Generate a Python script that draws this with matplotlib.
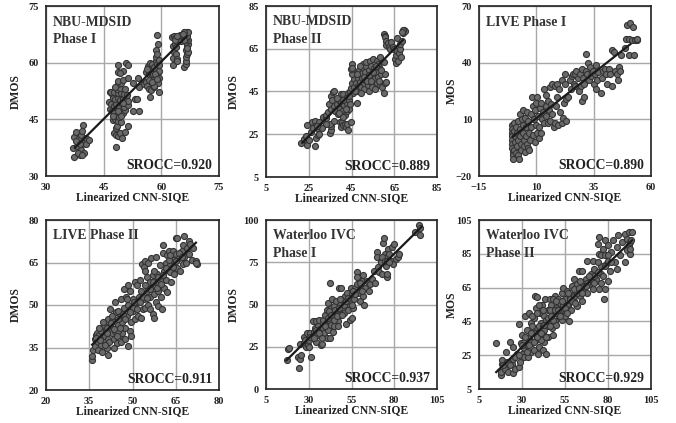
import numpy as np
import matplotlib
matplotlib.use("Agg")
import matplotlib.pyplot as plt

# puntos (x, y) por panel
nbu1_pts = [(37.2,35),(37.1,37.5),(37.3,40.3),(37.9,41.8),(38,38),(38.3,39),(38.5,36.5),(38.6,40),(38.9,35.5),(39,37),
    (39.2,41),(39.3,42),(39.7,43.5),(39.4,38.5),(39.8,36),(40,39),(40.3,40),(40.5,38.5),(41.1,39.5),(38.2,36.2),(39.4,35.6),(37.8,39.2),(38.8,38.4),
    (48.3,37.6),(47.6,41.5),(48.2,41),(48.6,40.5),(49.3,41.3),(49.8,40),(50.6,41.7),(51.2,43.2),(48.1,42.8),(48.4,43.3),(47.4,44.8),(48,45),(48.7,44.6),(49.5,44.3),
    (46.7,47.8),(47.2,47.2),(47.8,46.8),(48.4,46),(49,45.7),(49.4,47.2),(50,46.6),(50.5,47.4),(46.5,49.6),(47,49),(47.6,48.5),(48.3,49),(49,48.6),(49.7,49),(50.3,48.4),(51.2,48.8),
    (46.6,52.2),(47.1,51.7),(47.4,50.8),(48,50.5),(48.7,50.8),(49.3,50.2),(50,50.4),(50.8,50.6),(51.3,50),(46.9,52.4),(47.7,52.2),(48.6,52),(49.4,52),(50.2,51.8),(51,51.6),
    (48.4,53.2),(49.2,53.4),(48.7,54.3),(49.6,54.8),(48.7,55.3),(50,55.4),(51.2,56),(48.6,59.4),(50.8,60),(51.2,59.4),(48.8,57.5),(50.1,57.8),(49.2,57.3),(53.2,50.5),(53.8,50.5),(52.7,47.3),(54.1,47.3),(52.7,54.7),(54,56),(54.3,53.6),
    (55.5,54.5),(56,55),(56.4,54),(56.9,53),(57,51),(57.4,52.8),(58,53.5),(59.3,52.4),(56.1,57.6),(56.7,57),(57,58),(57.5,56.5),(58,56),(58.5,55),(59.2,54.6),(59.5,56),(56.6,59.3),(57,60),(57.5,59.8),(58,59),(58.6,58.2),(59.1,57.5),(59.5,58),(57.8,57),(58.2,54),(56.4,58.3),
    (58.5,60.5),(59,59.8),(59.4,59.5),(58.6,61.5),(58.7,63.5),(59,62.5),(59.2,65),(59,67.4),(59.3,60.8),
    (63,59.4),(63,61.4),(63.2,63),(63.7,62.5),(64,61),(64.2,60.5),(63,64.5),(63.5,65),(63.8,64.2),(62.9,67),(63.2,67.2),(63.6,66.6),(64.2,66.4),(64.8,67.5),(65.5,67),(65,65.8),
    (65.8,59),(66.3,59.8),(66.5,60.5),(66.4,61.5),(66.8,62.5),(66.5,63.5),(67,63),(66.6,64.5),(66.9,65),(66.5,65.6),(67,66),(66.4,66.5),(66.8,67.2),(66.2,67.8),(66.6,68.2),(67,68.2),(66,68.1),(65.7,67.7),
    (56.8,55.5),(57.6,55),(58.4,57.2),(59,55.8),(47.5,46),(48.8,47.3),(49.6,45.8),(47.9,53.5),(50.5,53),(49.9,49.5),(63.5,66),(64,67.2),(66,66),(66.8,64)]

nbu2_pts = [(21.5,20.8),(23,22.7),(23.5,24),(24,19.8),(25,22.5),(24.3,29.3),(27.7,19.6),(28.3,23.2),(29.5,24.5),(30,25.2),(26.5,30.8),(28,31),(28.8,28),(27.8,28.7),(29.8,30.6),(31.5,33),(33,32.8),(34.8,25.5),(35.3,27),(35.2,28.8),(35,30),(37,31),(33,34),
    (34,35.5),(34.5,39),(35.5,37),(35.5,43),(36,41),(36.2,44.8),(36.8,45),(37,38),(37.5,36),(38,39),(38.5,34.5),(39,41),(39.5,37),(40,43.8),(40.3,40),(40.5,36),(41,44),(41.5,38.5),(42,34),(42.2,42),(42.7,39.5),(43,35.8),(43.2,44.5),(43.8,41),(44,37),(44.5,45),(44.5,39),
    (39.7,30.5),(40.5,30.9),(40.3,28.2),(41.2,29.5),(42,30),(42.5,28.5),(43,30),(43.4,26.8),(44.7,30.6),
    (44.8,46.8),(45,49),(45.5,44.3),(46,51),(46.3,47),(46.5,53.5),(47,49),(45,53),(44.8,55.5),(45,57.8),(45.3,56),(47.4,39.5),(47.5,45),(48,51.5),(48,47.5),(48.3,53),(48.5,55),(49,49.5),(49,45.5),(49.5,47),
    (49.8,51.5),(50,53.5),(50.3,56),(50.5,58),(51,49),(51,46),(51.3,50.5),(51.5,54),(52,57),(52,59),(52.5,52),(52.8,48),(53,55),(53,45),(53.5,50),(53.8,59.5),(54,57),(54.5,53),(54.8,47),(55,60),(55.5,51),(55.5,56),(56,46),(56.3,54),(56.8,59.5),(57,49),(57.5,52),(58,56.5),(58.5,61),(58.5,48),(59,53),(59.5,47),(60,44.5),(60.5,53),(60.8,49),(61.3,49.5),(60,59),(57.5,58),(49.5,44.5),
    (60,72),(60.5,71),(60.8,70.3),(61,68.5),(61.3,66.8),(62,67.5),(62.5,66),(63,65),(63.5,68),(64.5,66),(65,65),(65.5,60),(65.8,58.5),(66,62),(66.3,70),(66.5,64),(66.8,59.5),(67.2,63),(67.5,65),(67.8,67),(68,61.3),(68.6,68.5),(69.2,72.5),(69.5,74),(69.8,73.5),(69.3,73.8),(68.8,72.8),
    (38,42),(39,35),(40.8,33),(41,41),(42.6,37),(43.6,43),(46.5,45),(47.7,53),(49,57),(50.8,52),(52.2,50),(53.3,52.5),(54.2,50),(55,54),(56.5,57),(57.8,50),(58.8,55),(33,30),(31,28),(26,26),(27,28),(29,29)]

live1_pts = [(-0.5,7),(-0.5,5),(-0.6,3),(-0.5,1),(-0.6,-1),(-0.5,-3),(-0.4,-5),(-0.3,-7),(-0.3,-9),(-0.2,-11),(0.2,-6),(0.3,4),(0.4,8),(0.6,-2),(0.8,1),(1,6),(1.2,-8),(1.5,-4),(1.7,3),(2,-1),(2,9),(2.2,-9),(2.6,-11),(2.8,1),(3,5),(3,13),(3.2,-6),(3.5,-3),(3.7,10),(4,15),(4,3),(4.2,7),(4.5,-1),(4.8,-4),(5,-7),(5.2,11),(5.5,1),(5.7,6),(6,-3),(6,14),(6.2,-5),(6.5,9),(6.8,3),(7,-6),(7.4,-1),(7.5,13),(7.8,6),(8,22),(8.5,2),(8.6,17),(9,10),(9.3,15),(9.5,-2),(9.8,7),(10,19),(10.2,3),(10.5,22),(10.8,12),(11,0),(11.3,6),(11.6,16),(12,3),(12,19),(12.5,10),
    (13,14),(13.2,26),(13.5,8),(14,17),(14.2,12),(14.4,23),(15,8),(15.2,20),(15.5,15),(16,9),(16,27),(16.5,18),(17,13),(17,29),(17.5,6),(18,28),(18.2,8),(18.5,17),(19,29),(19,22),(19.5,7),(20,26),(20.5,14),(21,8),(21,31),(21.5,11),(22,19),(22.5,34),(22.7,29),(23,9),(23,21),(24,22),(24.5,31),(25,26),(25.5,33),(26,34),(26.5,29),(27,34),(27,28),(27.5,36),(28,32),(28.5,25),(29,34),(29.3,28),(29.7,20),(30,37),(30.2,32),(30.8,22),(31,29),(31.5,36),(31.8,45),(32,34),(32.5,40),(33,31),(33.5,38),(34,33),(34.5,36),(35,29),(35.5,34),(36,39),(36,26),(36.5,31),(37,35),(38,24),(38.5,32),(39,36),(40,37),(40.5,34),(41,29),(41.5,37),(42,34),(42.8,28),(43,47),(44,46),(44.5,36),(45,34),(45.5,31),(46,38),(46.5,36),(47,44),(48.5,48),(49,53),(49.5,60),(50.5,53),(50.5,44),(51,61),(51.5,52),(52,59),(52.5,44),(53,52),(54,52),(53.8,53)]

live2_pts = [(35.8,30.5),(36,32),(36.3,34),(37,35.5),(37,38),(37.2,39.3),(37.8,40),(38,37),(38.2,34),(38.5,39.5),(39,36),(39,41),(39.5,33.5),(40,37.5),(40,43),(40.3,39),(40.8,41),(41,35),(41.5,45),(41.5,38),(41.5,32.5),(42,42.5),(42,37),(42.3,48.5),(42.8,40),(43,44.5),(43.5,38),(44,41),(44,51),(44.3,47.5),(44.5,36.5),(45,43),(45,47.8),(45.5,39.5),(46,52),(46,37),(46.5,44),(46.5,40),(47,55.5),(47,49),(47.5,42),(47.5,38),(47.8,53),(48,46),(48.5,57),(48.5,35.5),(48.5,50),(49,55),(49,41),(49.5,44),(50,52),(50,48),(50.3,49),(51,58),(51,45),(51.5,51),(51.5,57),(52,46),(52.2,53),(52.7,59),(53,45.5),(53,55),(53.2,64.5),(53.5,48.5),(54,63.5),(54,52),(54.3,62),(54.5,65.5),(54.5,49),(55,55),(55,60),(55.5,65),(55.5,50),(56,58),(56,53),(56,48.5),(56.5,66.5),(56.5,56),(57,60.5),(57,47),(57.5,54),(57.5,45.5),(58,67),(58,58),(58,51),(58.5,61),(59,55),(59,49.5),(59.5,64),(59.5,59),(60,53),(60.3,48.5),(60.5,68.5),(60.5,71),(61,62),(61,56),(61.5,65),(61.5,59),(62,67.5),(62,54.5),(62.5,69),(63,61.5),(63,64),(63.5,58),(64,69),(64,66),(64.3,61),(65,73.5),(65,68),(65.5,73.7),(65.5,63),(66,66.5),(66.5,62),(67,69),(67.5,71),(67.5,64.5),(68,74.5),(68,67),(68.5,65),(69,70),(69.5,72.5),(69.5,68),(70,71.5),(70.5,66),(71,70),(72,65.5),(72.2,64.5),(72,65),(37.5,38.5),(38.5,42),(39.8,44),(41,42),(43,46),(46,46),(49.5,39),(45,41),(43.5,35),(44.5,39),
    (38.8,37.8),(40.5,36),(41.2,40),(42.5,43.5),(43.5,41.5),(44.8,45),(45.8,42),(46.8,47),(47.5,45),(48,52),(49,47.5),(50.5,51),(51.5,48.5),(52.5,51),(53.5,53),(54.5,57),(55,52.5),(56,55.5),(57,58),(57.5,62),(58.5,56),(59,60),(60,57.5),(60.5,60.5),(61.5,63),(62.5,66),(63,67.5),(64,63.5),(65,65.5),(66,68.5),(67,67)]

wat1_pts = [(17.5,17),(18,23.8),(18.3,24.3),(24,19),(24.5,12.5),(24.7,18),(25,26.5),(25.5,20),(27,27),(27.5,31),(28,29),(28.5,25),(29,33),(29.5,26),(30,25),(30,29),(30.5,33),(31.5,19),(32,31),(32.5,40),(33,34),(33.5,36),(34,28),(34.5,40),(35,32),(35.5,37),(36,41),(37,26),(37,34),(37.5,31),(38,26.5),(38.5,36),(38.5,41),(39,33),(39.5,44),(40,38),(40.5,30),(40.5,47),(41,35),(41.5,51),(42,41),(42.5,30),(42.5,62.5),(43,48),(43,38),(43.5,53),(44,45),(44,34),(44.5,49),(45,37),(45.5,42),(46,52),(46.5,46),(47,40),(47,37.5),(47.5,60),(48,50),(48.5,44),(49,60),(49.5,48),(50,53),(50.5,45),(51,55),(52,38.5),(52,50),(52.5,57),(53,47),(54,41),(54,52),(54.5,60),(55,42),(55.5,56),(56,48),(56.5,53),(57,60),(58,62),(58.5,69),(59,57),(59.5,66),(60,52),(60.5,60),(61,64),(62,67.5),(62,55),(62.5,49.5),(63,60),(64,64),(65,58),(66,62),(67,65),(68,70),(69,63),(70,81),(70,78),(70.5,72),(71,69),(72,76),(72.5,75),(73,68),(73.5,86.5),(74,89.5),(74.5,80),(75,73),(75.5,78),(76,66.5),(76,68),(76.5,83),(77,80),(78,76),(78.5,84),(79,74),(80,86),(81,77),(82,78),(83,80),(92,93),(94.5,97),(95,91),(95,95),
    (31,31),(33,30),(34.5,35),(36,33),(38,30),(39.5,37),(41,42),(42,46),(43,44),(44.5,41),(45.5,47),(46.5,43),(47.5,48),(48.5,53),(49.5,44),(50.5,50),(51.5,52),(53,54),(55,50),(56,58),(57,56),(58,66),(60,63),(61,58),(73,78),(74.5,76),(76,76),(77,75)]

wat2_pts = [(15,32),(18,13),(18,15),(18.2,20),(18.5,22),(20,17),(20.5,27),(22,15),(23,33),(24,20),(24.5,30),(25,14.5),(25,23),(26,17),(27,26),(28,43.5),(28.5,18),(29,21),(29.5,32),(30,26),(30,37),(31,24),(31,33),(32,48),(32,29),(33,40),(33.5,24),(34,36),(34,50),(35,27),(35,44),(36,32),(36,38),(37,28),(37,47),(37.5,60),(38,34),(38,53),(39,59.5),(39,41),(39.5,26),(40,30),(40,36),(40.5,50),(41,44),(41.5,55),(42,38),(42,28),(43,48),(43,33),(43.5,58),(44,26),(44.5,42),(45,52),(45,36),(46,58),(46,46),(47,55),(47.5,41),(48,37),(48,50),(49,60),(49,45),(50,53),(50,43),(51,58),(51.5,48),(52,56),(53,46),(53,62),(54,52),(54,65),(55,48),(55,58),(56,63),(57,55),(57.5,45),(58,60),(58.5,52),(59,66),(60,57),(60.5,70),(61,63),(62,54),(62,67),(63,75),(63.5,60),(64,69),(65,75),(65,57),(66,64),(67,70),(68,62),(68,81),(69,67),(70,73),(71,81),(71,64),(72,76),(73,70),(74,91),(74.5,64),(75,85),(75,95),(76,73),(76,68),(77,88),(77.5,58),(78,64),(78,93),(79,79),(79.5,84),(80,69),(80,90),(81,75),(82,86),(83,93),(84,80),(85,76),(85,89),(86,96),(87,84),(88,92),(90,97),(90,80),(91,87),(91,94),(92,98),(92,90),(92.5,85),(93,88),(93,92),(94,98),(93.5,93),
    (19,19),(21,21),(23,19),(26,24),(28,25),(31,29),(33,31),(35,33),(38,38),(40,42),(42,42),(44,46),(46,42),(48,46),(50,50),(52,52),(54,55),(56,55),(58,58),(60,60),(62,62),(64,64),(66,66),(68,68),(70,70),(72,72),(74,74),(76,78),(78,78),(80,81),(34,31),(36,42),(41,34),(43,40),(37,38),(30,31),
    (32,36),(33,27),(35,38),(36,48),(37,33),(39,36),(39,50),(40,55),(41,38),(42,52),(43,43),(44,36),(45,47),(46,52),(47,48),(48,58),(49,52),(50,57),(51,52),(52,48),(53,57),(55,53),(56,50),(57,62),(59,57),(60,64),(61,56),(63,65),(65,62),(67,66),(69,72),(72,68),(74,80),(76,84),(78,84),(80,84),(82,80),(77,72)]

xticks_all = [[30,45,60,75],[5,25,45,65,85],[-15,10,35,60],[20,35,50,65,80],[5,30,55,80,105],[5,30,55,80,105]]
yticks_all = [[30,45,60,75],[5,25,45,65,85],[-20,10,40,70],[20,35,50,65,80],[0,25,50,75,100],[5,25,45,65,85,105]]
ylabels = ["DMOS","DMOS","MOS","DMOS","DMOS","MOS"]
titles = ["NBU-MDSID\nPhase I","NBU-MDSID\nPhase II","LIVE Phase I","LIVE Phase II","Waterloo IVC\nPhase I","Waterloo IVC\nPhase II"]
sroccs = ["0.920","0.889","0.890","0.911","0.937","0.929"]
fit_x = [(37.5,66.5),(22,69),(-0.3,51),(36,72),(17,96),(15,94)]
fit_y = [(37.5,67),(21,69),(0.8,50),(36,72),(17,96),(15,93)]
all_pts = [nbu1_pts,nbu2_pts,live1_pts,live2_pts,wat1_pts,wat2_pts]

W, H = 676, 423
# cajas de los ejes en pixeles: izq, der, arriba, abajo
boxes = [(46,219,6.5,176),(266,437,6,177),(479,651,6.5,176),(46,219,220,390),(266,437,220,389),(479,651,220,389)]
# posicion x (pixeles) del rotulo del eje y
ylabel_px = [22,240,458,22,240,458]

plt.rcParams["font.family"] = "Liberation Serif"
plt.rcParams["font.weight"] = "bold"
fig = plt.figure(figsize=(W/100, H/100), dpi=100)

for i in range(6):
    l, r, t, b = boxes[i]
    ax = fig.add_axes([l/W, 1-b/H, (r-l)/W, (b-t)/H])
    pts = np.array(all_pts[i])
    ax.grid(True, color="#a8a8a8", lw=1.0, zorder=0)
    ax.set_axisbelow(True)
    ax.scatter(pts[:,0], pts[:,1], s=19, c="#6a6a6a", edgecolors="#333333", linewidths=0.8, zorder=3)
    ax.plot(fit_x[i], fit_y[i], color="#1a1a1a", lw=1.6, zorder=4)
    ax.set_xlim(xticks_all[i][0], xticks_all[i][-1])
    ax.set_ylim(yticks_all[i][0], yticks_all[i][-1])
    ax.set_xticks(xticks_all[i])
    ax.set_yticks(yticks_all[i])
    ax.tick_params(length=0, labelsize=7.5, colors="#222222")
    ax.tick_params(axis="x", pad=5)
    ax.tick_params(axis="y", pad=5)
    for s in ax.spines.values():
        s.set_linewidth(1.2)
        s.set_color("#222222")
    ax.set_xlabel("Linearized CNN-SIQE", fontsize=8.4, fontweight="bold", labelpad=-0.5, color="#222222")
    ax.set_ylabel(ylabels[i], fontsize=8.4, fontweight="bold", color="#222222")
    ax.yaxis.set_label_coords((ylabel_px[i]-l)/(r-l), 0.5)
    ax.text(0.04, 0.945, titles[i], transform=ax.transAxes, va="top", ha="left",
            fontsize=9.9, fontweight="bold", color="#333333", linespacing=1.45)
    ax.text(0.96, 0.025, "SROCC=" + sroccs[i], transform=ax.transAxes, va="bottom", ha="right",
            fontsize=9.8, fontweight="bold", color="#222222")

fig.savefig("out.png", dpi=100)
